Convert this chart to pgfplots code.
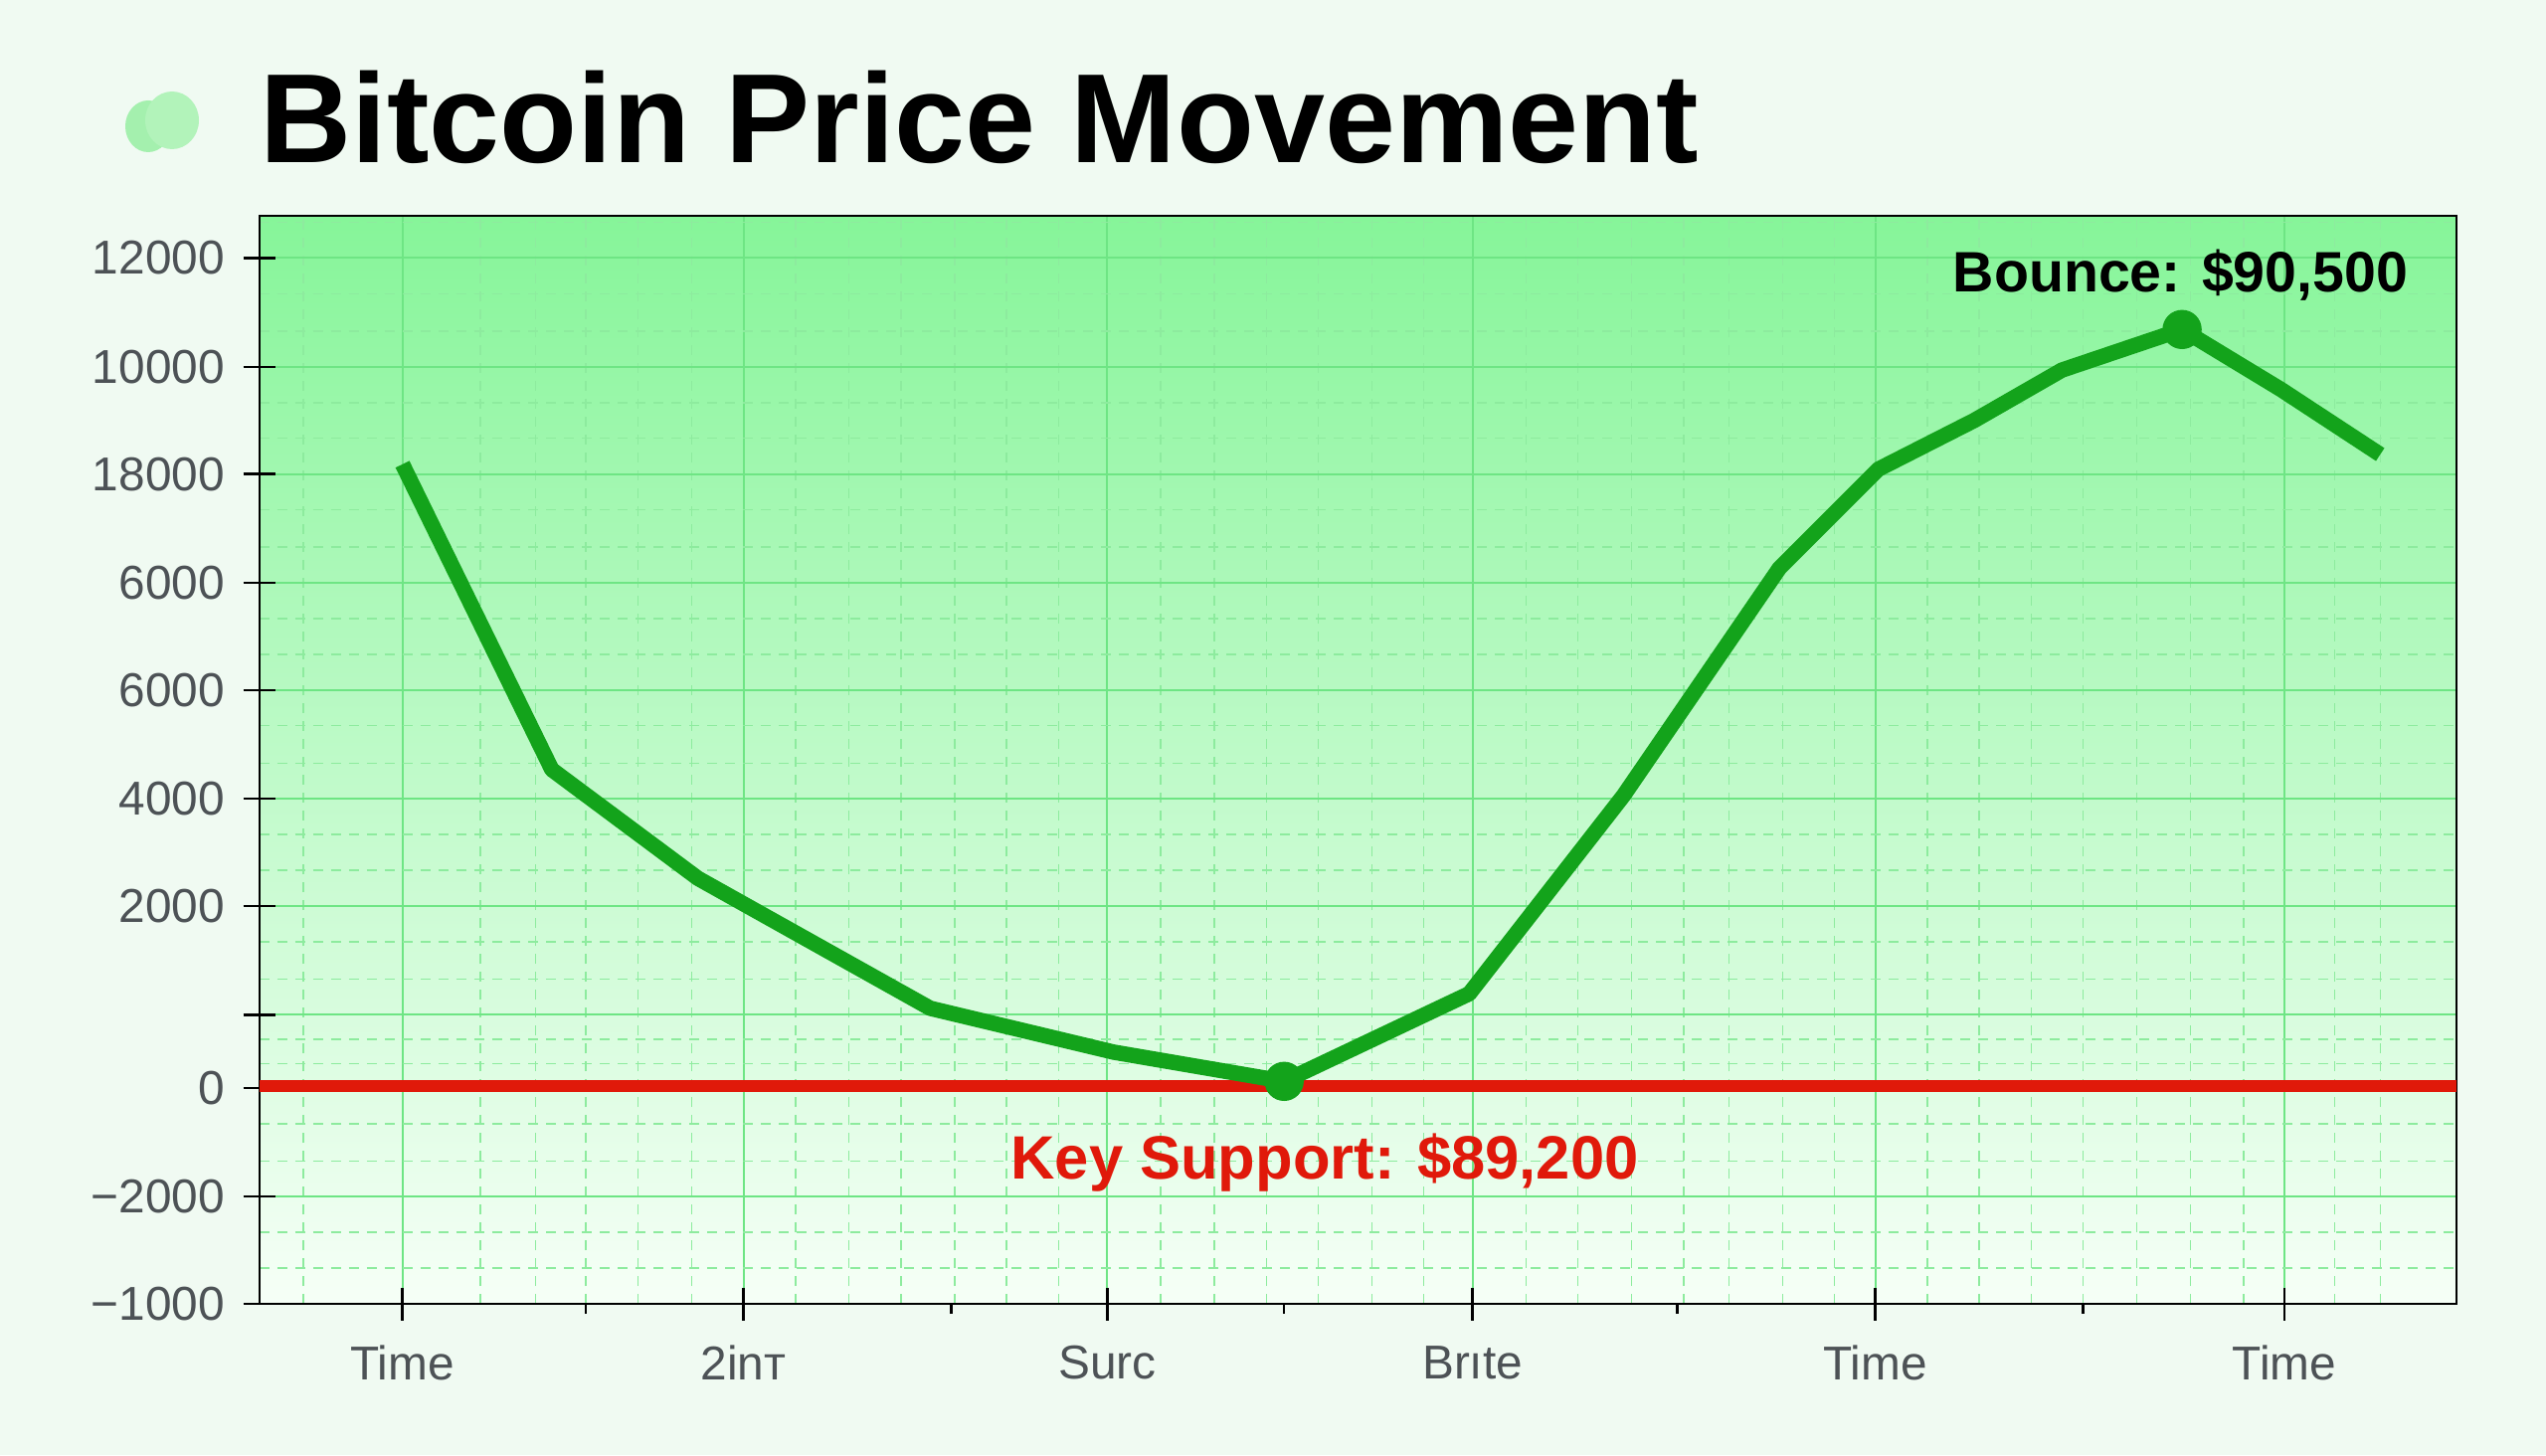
\documentclass[border=0pt]{standalone}
\usepackage{fontspec}
\setmainfont{Liberation Sans}
\usepackage{pgfplots}
\pgfplotsset{compat=1.18}
\definecolor{bgc}{HTML}{F0FAF2}
\definecolor{blobA}{HTML}{A4F0AE}
\definecolor{blobB}{HTML}{B2F3BA}
\definecolor{plottop}{HTML}{86F599}
\definecolor{plotmid}{HTML}{B9F5C2}
\definecolor{plotbot}{HTML}{F6FFF7}
\definecolor{gridmaj}{HTML}{6EE584}
\definecolor{gridmin}{HTML}{8DEB9E}
\definecolor{lgreen}{HTML}{13A31B}
\definecolor{redc}{HTML}{E0190A}
\definecolor{ticklab}{HTML}{4D5256}
\begin{document}
\begin{tikzpicture}
\fill[bgc] (0,0) rectangle (256mm,146.3mm);
\fill[blobA] (14.9mm,133.6mm) ellipse (2.3mm and 2.6mm);
\fill[blobB] (17.3mm,134.2mm) ellipse (2.7mm and 2.9mm);
\node[anchor=base west, inner sep=0pt, font=\bfseries\fontsize{36.3}{40}\selectfont] at (26.1mm,129.9mm) {Bitcoin Price Movement};
\begin{axis}[
  at={(26.1mm,15.2mm)}, anchor=south west,
  width=220.9mm, height=109.4mm, scale only axis,
  xmin=160, xmax=1513, ymin=0, ymax=670,
  axis background/.style={shade, top color=plottop, middle color=plotmid, bottom color=plotbot},
  xtick={248,458,682,907,1155,1407},
  xticklabels={Time,2inт,Surc,Brıte,Time,Time},
  ytick={0,66,133,178,245,311,378,444,511,577,644},
  yticklabels={−1000,−2000,0,,2000,4000,6000,6000,18000,10000,12000},
  minor xtick={187,296,330,361,393,426,490,523,555,588,620,652,715,748,780,812,845,877,940,972,1005,1037,1065,1098,1130,1187,1219,1251,1283,1316,1349,1382,1438,1466},
  minor ytick={22,44,88,111,148,163,200,223,267,289,333,356,400,422,466,489,533,555,599,622,666},
  grid=both,
  major grid style={gridmaj, line width=0.2mm},
  minor grid style={gridmin, line width=0.15mm, dash pattern=on 1mm off 0.8mm},
  xtick pos=lower, ytick pos=left,
  tick align=center, major tick length=3.3mm, minor tick length=0pt,
  tick style={black, line width=0.25mm},
  axis line style={black, line width=0.25mm},
  ticklabel style={font=\fontsize{13.6}{16}\selectfont, text=ticklab},
  xticklabel style={inner sep=0pt, anchor=north, yshift=-2.5mm},
  yticklabel style={inner sep=0pt, anchor=east, xshift=-1.8mm},
  extra x ticks={361,586,791,1033,1283}, extra x tick labels={},
  extra x tick style={grid=none, tick align=outside, major tick length=1mm},
  clip=false,
]
\addplot[redc, line width=1.15mm] coordinates {(160,134) (1513,134)};
\addplot[lgreen, line width=1.55mm, line join=round] coordinates {
(248,517) (340,329) (430,262) (573,182) (686,155) (791,137) (905,191)
(1000,313) (1096,453) (1157,514) (1216,544) (1270,575) (1344,600)
(1405,563) (1466,523)};
\addplot[only marks, mark=*, mark size=1.9mm, lgreen] coordinates {(791,137) (1344,600)};
\node[font=\bfseries\fontsize{17.5}{20}\selectfont, text=redc, anchor=base] at (axis cs:816,77) {Key Support: \$89,200};
\node[font=\bfseries\fontsize{16.3}{18}\selectfont, anchor=base] at (axis cs:1343,623) {Bounce: \$90,500};
\end{axis}
\end{tikzpicture}
\end{document}
